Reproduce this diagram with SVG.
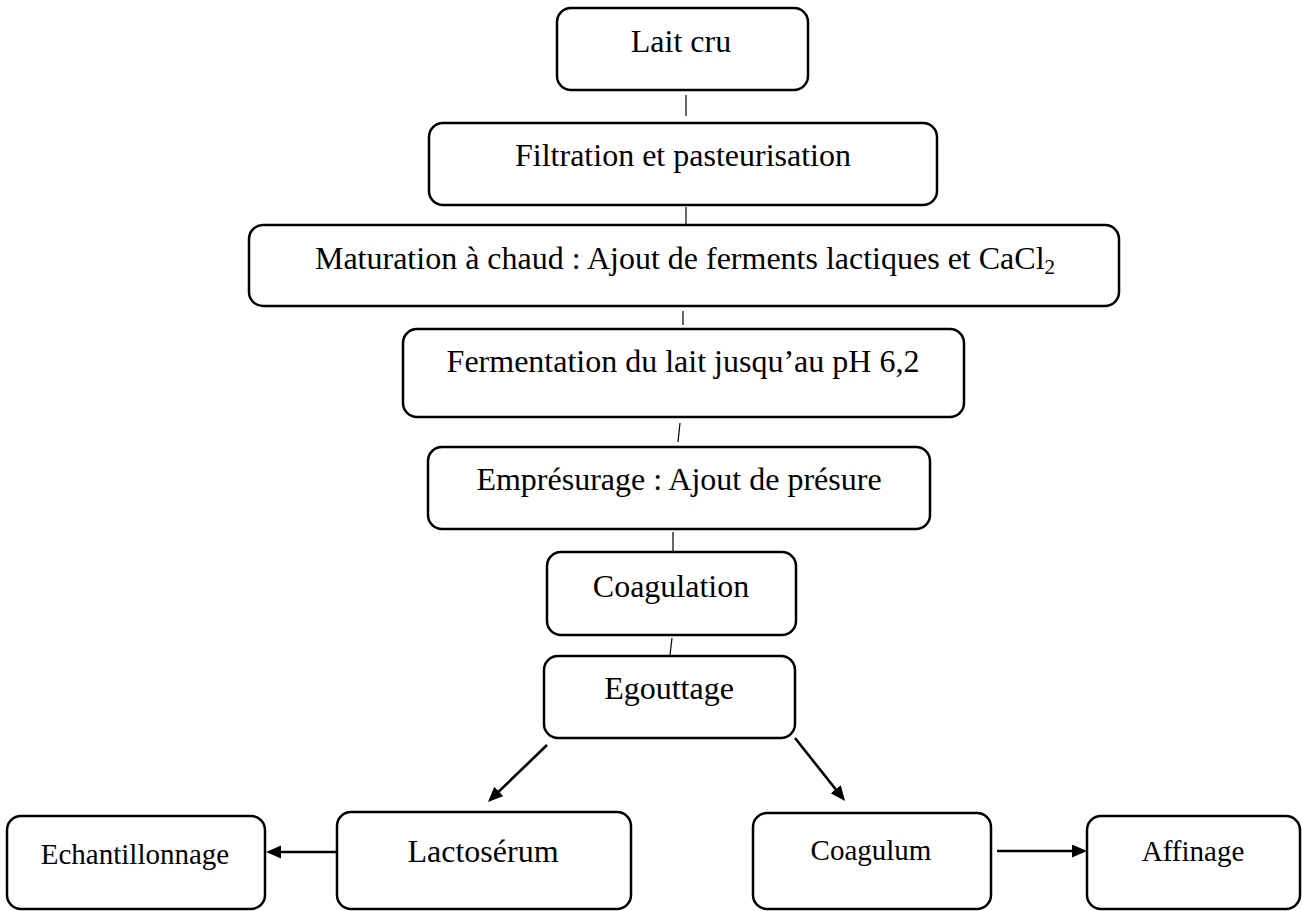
<svg xmlns="http://www.w3.org/2000/svg" width="1302" height="911" viewBox="0 0 1302 911">
<style>
  .box { fill: #ffffff; stroke: #000000; stroke-width: 2.5; }
  .t { font-family: "Liberation Serif", "Times New Roman", serif; font-size: 32px; fill: #000000; text-anchor: middle; }
  .ts { font-size: 29px; }
  .thin { stroke: #000000; stroke-width: 1.2; fill: none; }
  .arr { stroke: #000000; stroke-width: 2.6; fill: none; marker-end: url(#ah); }
</style>
<defs>
  <marker id="ah" markerUnits="userSpaceOnUse" markerWidth="16" markerHeight="14" refX="5" refY="6.5" orient="auto">
    <path d="M0,0 L15,6.5 L0,13 Z" fill="#000000"/>
  </marker>
</defs>
<rect width="1302" height="911" fill="#ffffff"/>

<g id="connectors">
  <line class="thin" x1="686" y1="95" x2="686" y2="116"/>
  <line class="thin" x1="686" y1="207" x2="686" y2="225"/>
  <line class="thin" x1="683" y1="311" x2="683" y2="325"/>
  <line class="thin" x1="680" y1="423" x2="678" y2="442"/>
  <line class="thin" x1="673" y1="532" x2="673" y2="552"/>
  <line class="thin" x1="672" y1="638" x2="670" y2="655"/>
  <line class="arr" x1="547" y1="745" x2="495.2" y2="795"/>
  <line class="arr" x1="795" y1="738" x2="838.8" y2="793.2"/>
  <line class="arr" x1="337" y1="852" x2="276" y2="852"/>
  <line class="arr" x1="997" y1="851" x2="1077" y2="851"/>
</g>

<g id="lait-cru">
  <rect class="box" x="557" y="8" width="251" height="82" rx="14"/>
  <text class="t" x="681" y="52">Lait cru</text>
</g>
<g id="filtration">
  <rect class="box" x="429" y="123" width="508" height="82" rx="14"/>
  <text class="t" x="683" y="166">Filtration et pasteurisation</text>
</g>
<g id="maturation">
  <rect class="box" x="249" y="225" width="870" height="81" rx="14"/>
  <text class="t" x="685" y="269">Maturation à chaud : Ajout de ferments lactiques et CaCl<tspan font-size="21" dy="5">2</tspan></text>
</g>
<g id="fermentation">
  <rect class="box" x="403" y="329" width="561" height="88" rx="14"/>
  <text class="t" x="683" y="372">Fermentation du lait jusqu’au pH 6,2</text>
</g>
<g id="empresurage">
  <rect class="box" x="428" y="447" width="502" height="82" rx="14"/>
  <text class="t" x="679" y="490">Emprésurage : Ajout de présure</text>
</g>
<g id="coagulation">
  <rect class="box" x="547" y="552" width="249" height="83" rx="14"/>
  <text class="t" x="671" y="597">Coagulation</text>
</g>
<g id="egouttage">
  <rect class="box" x="544" y="656" width="251" height="82" rx="14"/>
  <text class="t" x="669" y="699">Egouttage</text>
</g>
<g id="echantillonnage">
  <rect class="box" x="7" y="816" width="258" height="93" rx="14"/>
  <text class="t ts" x="135" y="864">Echantillonnage</text>
</g>
<g id="lactoserum">
  <rect class="box" x="337" y="812" width="294" height="97" rx="14"/>
  <text class="t" x="483" y="862">Lactosérum</text>
</g>
<g id="coagulum">
  <rect class="box" x="753" y="813" width="238" height="96" rx="14"/>
  <text class="t ts" x="871" y="860">Coagulum</text>
</g>
<g id="affinage">
  <rect class="box" x="1087" y="816" width="213" height="93" rx="14"/>
  <text class="t ts" x="1193" y="861">Affinage</text>
</g>
</svg>
